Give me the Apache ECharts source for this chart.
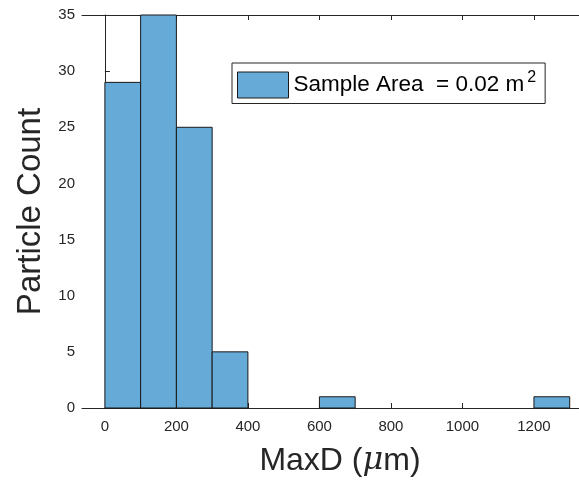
<!DOCTYPE html>
<html>
<head>
<meta charset="utf-8">
<script src="https://cdn.jsdelivr.net/npm/echarts@6/dist/echarts.min.js"></script>
<style>
  html, body { margin: 0; padding: 0; background: #fff; }
  #chart { width: 579px; height: 480px; }
</style>
</head>
<body>
<div id="chart"></div>
<script>
// histogram bins (width 100 um) and counts
var binStart = [0, 100, 200, 300, 400, 500, 600, 700, 800, 900, 1000, 1100, 1200];
var binEnd = [100, 200, 300, 400, 500, 600, 700, 800, 900, 1000, 1100, 1200, 1300];
var counts = [29, 35, 25, 5, 0, 0, 1, 0, 0, 0, 0, 0, 1];
var xTicks = [0, 200, 400, 600, 800, 1000, 1200];

var histData = [];
for (var i = 0; i < counts.length; i++) {
    histData.push([binStart[i], binEnd[i], counts[i]]);
}

var chart = echarts.init(document.getElementById('chart'));
var axisColor = '#262626';

chart.setOption({
    animation: false,
    grid: { left: 82, right: 0, top: 15, bottom: 72, outerBoundsMode: 'none', containLabel: false },
    legend: {
        left: 232, top: 63,
        padding: [7, 9, 5, 5],
        borderColor: axisColor, borderWidth: 1,
        backgroundColor: '#fff',
        itemWidth: 51, itemHeight: 26,
        data: [{ name: 'Sample Area = 0.02 m2', icon: 'rect', itemStyle: { borderWidth: 1, borderColor: '#1a1a1a' } }],
        formatter: function () { return '{a|Sample Area  = 0.02 m}{s|2}'; },
        textStyle: {
            rich: {
                a: { fontSize: 22.5, fontFamily: 'Liberation Sans', color: '#000' },
                s: { fontSize: 16, fontFamily: 'Liberation Sans', color: '#000', padding: [0, 0, 14, 3] }
            }
        }
    },
    xAxis: [{
        type: 'value', min: -64, max: 1326,
        position: 'bottom',
        splitLine: { show: false },
        axisLine: { lineStyle: { color: axisColor, width: 1 } },
        axisTick: { inside: true, length: 5, customValues: xTicks, lineStyle: { color: axisColor } },
        axisLabel: {
            customValues: xTicks, margin: 11, fontSize: 15, fontFamily: 'Liberation Sans', color: axisColor,
            formatter: function (v) { return String(v); }
        },
        name: 'MaxD ({mu|μ}m)',
        nameLocation: 'middle', nameGap: 37,
        nameTextStyle: {
            fontSize: 32, fontFamily: 'Liberation Sans', color: axisColor, padding: [0, 0, 0, 19],
            rich: { mu: { fontSize: 32, fontStyle: 'italic', fontFamily: 'DejaVu Serif', color: axisColor } }
        }
    }, {
        type: 'value', min: -64, max: 1326,
        position: 'top',
        splitLine: { show: false },
        axisLine: { lineStyle: { color: axisColor, width: 1 } },
        axisTick: { inside: true, length: 5, customValues: xTicks, lineStyle: { color: axisColor } },
        axisLabel: { show: false }
    }],
    yAxis: {
        type: 'value', min: 0, max: 35, interval: 5,
        splitLine: { show: false },
        axisLine: { show: true, lineStyle: { color: axisColor, width: 1 } },
        axisTick: { show: true, inside: true, length: 5, lineStyle: { color: axisColor } },
        axisLabel: { margin: 7, fontSize: 15, fontFamily: 'Liberation Sans', color: axisColor },
        name: 'Particle Count',
        nameLocation: 'middle', nameGap: 31,
        nameTextStyle: { fontSize: 33, fontFamily: 'Liberation Sans', color: axisColor }
    },
    series: [{
        name: 'Sample Area = 0.02 m2',
        type: 'custom',
        xAxisIndex: 0,
        itemStyle: { color: '#66aad7', borderColor: '#1a1a1a', borderWidth: 1 },
        renderItem: function (params, api) {
            var c = api.value(2);
            if (!c) return null;
            var p0 = api.coord([api.value(0), c]);
            var p1 = api.coord([api.value(1), 0]);
            return {
                type: 'rect',
                shape: { x: p0[0], y: p0[1], width: p1[0] - p0[0], height: p1[1] - p0[1] },
                style: api.style()
            };
        },
        encode: { x: [0, 1], y: 2 },
        data: histData
    }]
});
</script>
</body>
</html>
